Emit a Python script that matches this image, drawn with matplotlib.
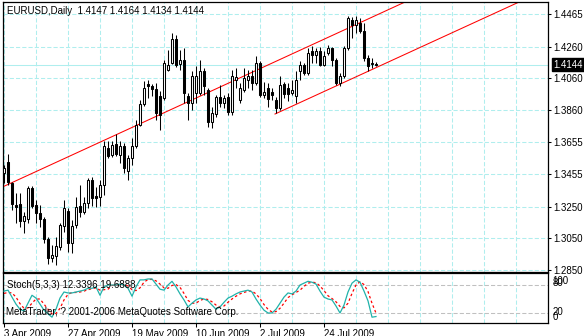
import matplotlib
matplotlib.use('Agg')
import matplotlib.pyplot as plt
import numpy as np

# daily candles, EURUSD
opens = [1.3462, 1.3531, 1.3399, 1.3260, 1.3266, 1.3159, 1.3171, 1.3367, 1.3260, 1.3209,
         1.3171, 1.3045, 1.2925, 1.2938, 1.2995, 1.3127, 1.3222, 1.3020, 1.3134, 1.3253,
         1.3216, 1.3272, 1.3418, 1.3317, 1.3310, 1.3386, 1.3619, 1.3575, 1.3645, 1.3575,
         1.3632, 1.3474, 1.3556, 1.3632, 1.3765, 1.3897, 1.4023, 1.4011, 1.3992, 1.3948,
         1.3935, 1.4112, 1.4156, 1.4307, 1.4150, 1.4175, 1.3948, 1.3903, 1.3966, 1.3966,
         1.4105, 1.3985, 1.3784, 1.3834, 1.3941, 1.3903, 1.3941, 1.3847, 1.4049, 1.3922,
         1.3985, 1.4049, 1.4074, 1.4030, 1.4156, 1.3954, 1.3998, 1.3973, 1.3922, 1.3872,
         1.4023, 1.3998, 1.3966, 1.3948, 1.4105, 1.4143, 1.4093, 1.4232, 1.4206, 1.4232,
         1.4143, 1.4219, 1.4250, 1.4175, 1.4030, 1.4074, 1.4250, 1.4427, 1.4396, 1.4408,
         1.4358, 1.4187, 1.4150, 1.4147]
highs = [1.3512, 1.3582, 1.3405, 1.3336, 1.3336, 1.3216, 1.3380, 1.3380, 1.3291, 1.3260,
         1.3184, 1.3058, 1.3007, 1.3058, 1.3146, 1.3291, 1.3241, 1.3165, 1.3310, 1.3386,
         1.3310, 1.3430, 1.3436, 1.3373, 1.3418, 1.3664, 1.3664, 1.3664, 1.3708, 1.3664,
         1.3651, 1.3575, 1.3683, 1.3796, 1.3922, 1.4042, 1.4049, 1.4023, 1.4030, 1.3979,
         1.4175, 1.4238, 1.4345, 1.4333, 1.4238, 1.4250, 1.3966, 1.4105, 1.4137, 1.4175,
         1.4124, 1.3998, 1.3878, 1.3954, 1.4017, 1.3954, 1.3966, 1.4112, 1.4124, 1.4030,
         1.4124, 1.4112, 1.4112, 1.4200, 1.4168, 1.4036, 1.4030, 1.3998, 1.3941, 1.4074,
         1.4036, 1.4030, 1.4049, 1.4105, 1.4168, 1.4156, 1.4250, 1.4264, 1.4250, 1.4257,
         1.4232, 1.4270, 1.4257, 1.4187, 1.4093, 1.4264, 1.4452, 1.4446, 1.4452, 1.4440,
         1.4408, 1.4206, 1.4187, 1.4164]
lows = [1.3399, 1.3386, 1.3228, 1.3146, 1.3121, 1.3083, 1.3146, 1.3241, 1.3146, 1.3121,
        1.3020, 1.2888, 1.2900, 1.2881, 1.2976, 1.3089, 1.2963, 1.2957, 1.3115, 1.3184,
        1.3203, 1.3241, 1.3253, 1.3247, 1.3253, 1.3323, 1.3556, 1.3563, 1.3569, 1.3525,
        1.3462, 1.3418, 1.3512, 1.3619, 1.3758, 1.3885, 1.3935, 1.3948, 1.3796, 1.3733,
        1.3922, 1.4105, 1.4150, 1.4131, 1.4112, 1.3903, 1.3796, 1.3859, 1.3903, 1.3954,
        1.3954, 1.3752, 1.3746, 1.3815, 1.3878, 1.3872, 1.3828, 1.3828, 1.3998, 1.3903,
        1.3973, 1.3998, 1.3985, 1.4017, 1.3941, 1.3935, 1.3878, 1.3922, 1.3840, 1.3859,
        1.3935, 1.3916, 1.3954, 1.3903, 1.4049, 1.4080, 1.4080, 1.4156, 1.4156, 1.4137,
        1.4137, 1.4206, 1.4137, 1.4017, 1.4011, 1.4061, 1.4238, 1.4314, 1.4345, 1.4345,
        1.4168, 1.4105, 1.4124, 1.4134]
closes = [1.3493, 1.3405, 1.3266, 1.3247, 1.3159, 1.3190, 1.3367, 1.3253, 1.3209, 1.3171,
          1.3045, 1.2925, 1.2944, 1.3001, 1.3134, 1.3241, 1.3020, 1.3127, 1.3247, 1.3216,
          1.3272, 1.3418, 1.3304, 1.3304, 1.3386, 1.3632, 1.3569, 1.3638, 1.3582, 1.3632,
          1.3493, 1.3556, 1.3632, 1.3765, 1.3897, 1.3998, 1.4011, 1.3992, 1.3840, 1.3828,
          1.4156, 1.4143, 1.4307, 1.4143, 1.4175, 1.3966, 1.3903, 1.4074, 1.4074, 1.4105,
          1.4011, 1.3784, 1.3840, 1.3941, 1.3903, 1.3935, 1.3847, 1.4074, 1.4067, 1.3998,
          1.4061, 1.4074, 1.4030, 1.4156, 1.3954, 1.3973, 1.3929, 1.3954, 1.3872, 1.4017,
          1.3960, 1.3960, 1.3985, 1.4049, 1.4143, 1.4093, 1.4219, 1.4206, 1.4232, 1.4143,
          1.4200, 1.4250, 1.4175, 1.4030, 1.4074, 1.4250, 1.4440, 1.4396, 1.4427, 1.4358,
          1.4187, 1.4137, 1.4156, 1.4144]

# Stoch(5,3,3) main and signal
stoch_k = [67, 69, 54, 39, 28, 24, 41, 58, 52, 39, 26, 18, 11, 28, 52, 65, 63, 63, 65, 67,
           69, 73, 73, 76, 58, 76, 80, 80, 80, 82, 80, 73, 56, 76, 91, 91, 93, 93, 82, 71,
           69, 80, 88, 76, 61, 48, 33, 41, 48, 52, 50, 46, 37, 28, 33, 43, 52, 56, 61, 65,
           67, 69, 65, 50, 37, 26, 20, 20, 28, 41, 54, 63, 61, 67, 80, 84, 88, 86, 82, 67,
           54, 50, 48, 35, 20, 37, 65, 84, 91, 86, 67, 46, 11, 12.34]
stoch_d = [62, 64, 63, 54, 40, 30, 31, 41, 50, 50, 39, 28, 18, 19, 30, 48, 60, 64, 64, 65,
           67, 70, 72, 74, 69, 70, 71, 79, 80, 81, 81, 78, 70, 68, 74, 86, 92, 92, 89, 82,
           74, 73, 79, 81, 75, 62, 47, 41, 41, 47, 50, 49, 44, 37, 33, 35, 43, 50, 56, 61,
           64, 67, 67, 61, 51, 38, 28, 22, 23, 30, 41, 53, 59, 64, 69, 77, 84, 86, 85, 78,
           68, 57, 51, 44, 34, 31, 41, 62, 80, 87, 81, 66, 41, 19.69]

price_ticks = [1.4465, 1.4260, 1.4060, 1.3860, 1.3655, 1.3455, 1.3250, 1.3050, 1.2850]
date_bars = [0, 16, 32, 48, 64, 80]
date_labels = ['3 Apr 2009', '27 Apr 2009', '19 May 2009', '10 Jun 2009', '2 Jul 2009', '24 Jul 2009']
last_price = 1.4144

# channel: two anchor points each (bar, price)
chan_a = ([0, 80], [1.3378, 1.4306])
chan_b = ([68, 80], [1.3837, 1.3976])

W, H = 584.0, 336.0
GRID = '#afeeee'
FONT = 'Liberation Sans'
plt.rcParams['font.family'] = [FONT, 'DejaVu Sans']
plt.rcParams['font.size'] = 7


def px_box(x0, y0, x1, y1):
    return [x0 / W, 1 - y1 / H, (x1 - x0) / W, (y1 - y0) / H]


fig = plt.figure(figsize=(W / 100, H / 100), dpi=100)
ax = fig.add_axes(px_box(2.5, 2, 548, 272))
ax2 = fig.add_axes(px_box(2.5, 273, 548, 323), sharex=ax)

n = len(opens)
idx = np.arange(n)
o = np.array(opens); h = np.array(highs); l = np.array(lows); c = np.array(closes)
x_lo, x_hi = -0.375, 136

# grids
for a in (ax, ax2):
    for b in range(0, 137, 8):
        a.axvline(b, color=GRID, lw=0.75, ls=(0, (4, 2)), zorder=0)
for p in price_ticks:
    ax.axhline(p, color=GRID, lw=0.75, ls=(0, (4, 2)), zorder=0)
ax.axhline(last_price, color=GRID, lw=0.75, zorder=0)

# trend channel
for bx, by in (chan_a, chan_b):
    k = (by[1] - by[0]) / (bx[1] - bx[0])
    xs = np.array([bx[0] - 0.25, x_hi])
    ax.plot(xs, by[0] + k * (xs - bx[0]), color='red', lw=0.75, zorder=1)

# candles
ax.vlines(idx, l, h, color='black', lw=0.75, zorder=2)
up = c >= o
body_lo = np.minimum(o, c)
body_h = np.abs(c - o)
ax.bar(idx[up], body_h[up], 0.5, bottom=body_lo[up], facecolor='white',
       edgecolor='black', linewidth=0.75, zorder=3)
ax.bar(idx[~up], body_h[~up], 0.5, bottom=body_lo[~up], facecolor='black',
       edgecolor='black', linewidth=0.75, zorder=3)

ax.set_xlim(x_lo, x_hi)
ax.set_ylim(1.2837, 1.4541)
ax.yaxis.tick_right()
ax.set_yticks(price_ticks)
ax.set_yticklabels(['%.4f' % p for p in price_ticks])
ax.tick_params(axis='y', length=2.5, width=0.75, pad=1.5, labelsize=7)
ax.tick_params(axis='x', bottom=False, labelbottom=False)
ax.annotate('%.4f' % last_price, xy=(1.0, last_price), xycoords=('axes fraction', 'data'),
            xytext=(4, 0), textcoords='offset points', va='center', ha='left',
            color='white', fontsize=7,
            bbox=dict(boxstyle='square,pad=0.15', fc='black', ec='black'))

# stochastic
ax2.axhline(80, color='#c0c0c0', lw=0.75, ls=(0, (4, 2)))
ax2.axhline(20, color='#c0c0c0', lw=0.75, ls=(0, (4, 2)))
ax2.plot(idx, stoch_k, color='#20b2aa', lw=0.9, zorder=3)
ax2.plot(idx, stoch_d, color='red', lw=0.9, ls=(0, (2, 2)), zorder=2)
ax2.set_ylim(-1.5, 105.8)
ax2.set_yticks([])
for v, s in ((88.5, '100'), (84, '80'), (22, '20'), (11.4, '0')):
    ax2.text(1.008, v, s, transform=ax2.get_yaxis_transform(), fontsize=7,
             va='center', ha='left')
ax2.set_xticks(date_bars)
ax2.set_xticklabels(date_labels, ha='left')
ax2.tick_params(axis='x', length=3, width=0.75, pad=1, labelsize=7)
for t in ax2.get_xticklabels():
    t.set_x(t.get_position()[0])

for a in (ax, ax2):
    for s in a.spines.values():
        s.set_linewidth(0.9)
        s.set_color('black')

fig.text(7 / W, 1 - 11 / H, 'EURUSD,Daily  1.4147 1.4164 1.4134 1.4144', va='center', ha='left', fontsize=7)
fig.text(7 / W, 1 - 285 / H, 'Stoch(5,3,3) 12.3396 19.6888', va='center', ha='left', fontsize=7)
fig.text(6 / W, 1 - 312 / H, 'MetaTrader, ? 2001-2006 MetaQuotes Software Corp.', va='center', ha='left', fontsize=7)

fig.savefig('out.png', dpi=100)
